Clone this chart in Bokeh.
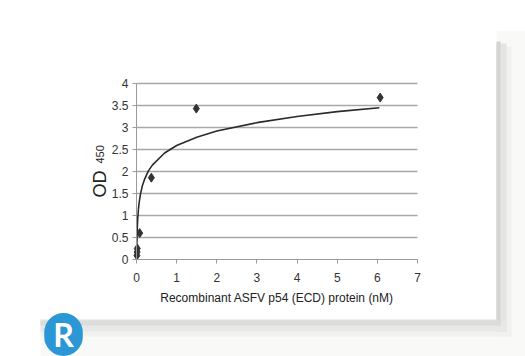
import math
from bokeh.plotting import figure
from bokeh.models import Label, FixedTicker, Range1d, BoxAnnotation, LinearAxis
from bokeh.embed import file_html
from bokeh.resources import INLINE

# data points
conc_nM = [0.01, 0.015, 0.02, 0.08, 0.37, 1.49, 6.07]
od450 = [0.09, 0.17, 0.25, 0.6, 1.86, 3.43, 3.68]

# trend line points
trend_x = [0.005, 0.01, 0.02, 0.03, 0.05, 0.07, 0.1, 0.15, 0.2, 0.3, 0.4, 0.7, 1.0, 1.5, 2.0, 3.0, 4.0, 5.0, 6.05]
trend_y = [0.06, 0.40, 0.72, 0.92, 1.16, 1.32, 1.49, 1.69, 1.82, 2.02, 2.15, 2.42, 2.59, 2.78, 2.92, 3.11, 3.25, 3.36, 3.45]

x_ticks = [0, 1, 2, 3, 4, 5, 6, 7]
y_ticks = [0, 0.5, 1, 1.5, 2, 2.5, 3, 3.5, 4]
y_tick_labels = ["0", "0.5", "1", "1.5", "2", "2.5", "3", "3.5", "4"]

FONT = "Liberation Sans"
W, H = 525, 356
# pixel anchors of the plot area
FL, FT, FR, FB = 40, 30, W, H          # frame edges
X0_PX, X7_PX, Y0_PX, Y4_PX = 136, 417, 259, 83
sx = (X7_PX - X0_PX) / (x_ticks[-1] - x_ticks[0])
sy = (Y0_PX - Y4_PX) / (y_ticks[-1] - y_ticks[0])
x_rng = Range1d(x_ticks[0] - (X0_PX - FL) / sx, x_ticks[-1] + (FR - X7_PX) / sx)
y_rng = Range1d(y_ticks[0] - (FB - Y0_PX) / sy, y_ticks[-1] + (Y4_PX - FT) / sy)

p = figure(width=W, height=H, output_backend="svg", toolbar_location=None,
           x_range=x_rng, y_range=y_rng, x_axis_location=None,
           min_border_left=FL, min_border_right=0, min_border_top=FT, min_border_bottom=0)
p.border_fill_color = "white"
p.background_fill_color = "white"
p.outline_line_color = None
p.xgrid.visible = False
p.ygrid.visible = False

def box(l, r, t, b, color):
    p.add_layout(BoxAnnotation(left=l, right=r, top=t, bottom=b, left_units="canvas", right_units="canvas",
                               top_units="canvas", bottom_units="canvas", fill_color=color, fill_alpha=1,
                               line_color=None, level="underlay"))

# page background outside the card, and the card's shadow
box(496, 525, 30, 356, "#f9f9f8")
box(40, 525, 320, 356, "#f9f9f8")
box(496, 511, 46, 336, "#f1f1f0")
box(28, 511, 320, 336, "#f1f1f0")
box(496, 506, 43, 331, "#e4e4e3")
box(26, 506, 320, 331, "#e8e8e7")
box(496, 500, 41, 325, "#d4d4d3")
box(24, 500, 320, 325, "#dcdcdb")
box(40, 496, 319, 321, "#e0e0df")

# horizontal grid lines between the axis limits
p.segment(x0=[x_ticks[0]] * (len(y_ticks) - 1), x1=[x_ticks[-1]] * (len(y_ticks) - 1),
          y0=y_ticks[1:], y1=y_ticks[1:], line_color="#a8a8a8", line_width=1.5, level="underlay")

# axes
xaxis = LinearAxis()
p.add_layout(xaxis, "above")
yaxis = p.yaxis[0]
for ax in (xaxis, yaxis):
    ax.axis_line_color = "#9a9a9a"
    ax.axis_line_width = 1
    ax.major_tick_line_color = "#9a9a9a"
    ax.minor_tick_line_color = None
    ax.major_label_text_font = FONT
    ax.major_label_text_font_size = "12px"
    ax.major_label_text_color = "#333333"

yaxis.major_tick_in = 0
yaxis.major_tick_out = 4
yaxis.ticker = FixedTicker(ticks=y_ticks)
yaxis.bounds = (y_ticks[0], y_ticks[-1])
yaxis.fixed_location = x_ticks[0]
yaxis.major_label_overrides = {t: s for t, s in zip(y_ticks, y_tick_labels)}
yaxis.major_label_standoff = 4

xaxis.ticker = FixedTicker(ticks=x_ticks)
xaxis.bounds = (x_ticks[0], x_ticks[-1])
xaxis.fixed_location = y_ticks[0]
xaxis.major_tick_in = 4
xaxis.major_tick_out = 0
xaxis.major_label_standoff = -22
xaxis.axis_label = "Recombinant ASFV p54 (ECD) protein (nM)"
xaxis.axis_label_text_font = FONT
xaxis.axis_label_text_font_size = "12px"
xaxis.axis_label_text_font_style = "normal"
xaxis.axis_label_text_color = "#222222"
xaxis.axis_label_standoff = -21

# trend line and points
p.line(trend_x, trend_y, line_color="#2a2a2a", line_width=1.6)
p.scatter(conc_nM, od450, marker="diamond", size=9, fill_color="#333333", line_color="#333333")

# y-axis title
p.add_layout(Label(x=99 - FL, y=FB - 197, x_units="screen", y_units="screen", text="OD", angle=math.pi / 2,
                   text_font=FONT, text_font_size="18px", text_color="#222222",
                   text_align="left", text_baseline="alphabetic"))
p.add_layout(Label(x=99 - FL, y=FB - 163, x_units="screen", y_units="screen", text="450", angle=math.pi / 2,
                   text_font=FONT, text_font_size="11px", text_color="#222222",
                   text_align="left", text_baseline="alphabetic"))

# logo
p.add_layout(Label(x=63 - FL, y=FB - 334, x_units="screen", y_units="screen", text="R",
                   text_font="Lato", text_font_size="32px", text_font_style="bold",
                   text_color="white", text_align="center", text_baseline="middle",
                   background_fill_color="#2b97d4", padding=(9, 2), border_radius=21))

open("out.html", "w").write(file_html(p, INLINE))
